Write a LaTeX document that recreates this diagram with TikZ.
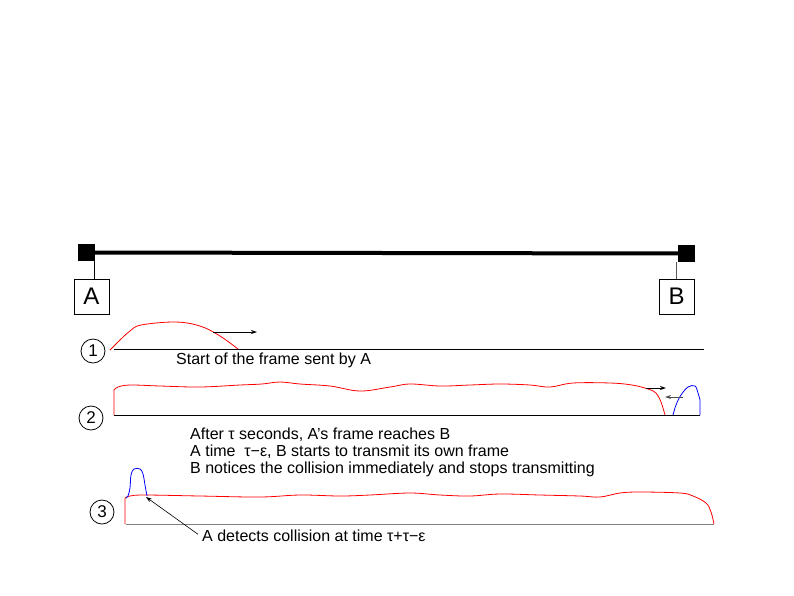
\documentclass[tikz,border=0pt]{standalone}
\usepackage{fontspec}
\setmainfont{Liberation Sans}
\usetikzlibrary{arrows.meta}
\begin{document}
\begin{tikzpicture}[x=1pt,y=-1pt,
  lbl/.style={font=\fontsize{16}{17}\selectfont, inner sep=0pt, anchor=base west},
  numc/.style={draw, line width=0.8pt, circle, minimum size=24pt, inner sep=0pt, font=\fontsize{17}{18}\selectfont},
  stbox/.style={draw, minimum width=35pt, minimum height=35pt, inner sep=0pt, font=\fontsize{24}{26}\selectfont},
  sq/.style={fill=black, minimum size=17pt, inner sep=0pt},
  arr/.style={-{Stealth[length=6pt,width=4pt]}, line width=0.8pt},
  frameA/.style={red, line width=0.8pt},
  frameB/.style={blue, line width=0.8pt}]
\useasboundingbox (0,0) rectangle (794,595);
% bus
\node[sq] (sa) at (86.5,252.5) {};
\node[sq] (sb) at (686.5,253.5) {};
\draw[line width=4pt] (sa.center) -- (sb.center);
\node[stbox] (A) at (91.5,296.5) {A};
\node[stbox] (B) at (676.5,296.5) {B};
\draw[line width=0.6pt] (94,261) -- (94,279);
\draw[line width=0.6pt, gray!70!black] (676,262) -- (676,279);
% line 1
\node[numc] (n1) at (93,351) {1};
\coordinate (b1s) at (114,349);
\coordinate (b1e) at (704,349);
\draw[line width=0.8pt] (b1s) -- (b1e);
\draw[frameA] plot[smooth, tension=0.6] coordinates {(110,350) (120,340) (130,331) (141,325) (175,322) (200,326) (220,336) (238,349)};
\coordinate (a1s) at (213,332);
\coordinate (a1e) at (257,332);
\draw[arr] (a1s) -- (a1e);
\node[lbl] (t1) at (176,364) {Start of the frame sent by A};
% line 2
\node[numc] (n2) at (91,418) {2};
\coordinate (b2s) at (114,415);
\coordinate (b2e) at (700,415);
\draw[line width=0.8pt] (b2s) -- (b2e);
\draw[frameA] (114,415) -- (114,390) plot[smooth, tension=0.6] coordinates {(114,390) (118,387) (130,385) (160,386) (200,387) (240,385) (262,384) (280,382) (300,384) (330,386) (360,391) (390,387) (410,384) (440,386) (470,385) (500,384) (530,385) (550,387) (573,383) (610,383) (632,385) (648,389) (656,393) (661,402) (665,415)};
\draw[frameB] plot[smooth, tension=0.6] coordinates {(673,415) (676,405) (681,395) (688,387) (695,386) (698,393) (700,400)} -- (700,415);
\coordinate (a2s) at (646,388);
\coordinate (a2e) at (666,388);
\draw[arr] (a2s) -- (a2e);
\coordinate (a3s) at (683,397);
\coordinate (a3e) at (665,397);
\draw[arr, gray!60!black] (a3s) -- (a3e);
\node[lbl] (t2) at (190,439) {After τ seconds, A’s frame reaches B};
\node[lbl] (t3) at (190,456) {A time \ τ−ε, B starts to transmit its own frame};
\node[lbl] (t4) at (190,473) {B notices the collision immediately and stops transmitting};
% line 3
\node[numc] (n3) at (102,512) {3};
\coordinate (b3s) at (126,524);
\coordinate (b3e) at (714,524);
\draw[line width=0.8pt, gray] (b3s) -- (b3e);
\draw[frameA] (125,524) -- (125,498) plot[smooth, tension=0.6] coordinates {(125,498) (130,496) (145,495) (200,496) (260,497) (300,495) (340,496) (370,495) (410,493) (440,495) (470,496) (500,494) (540,495) (580,496) (600,497) (620,493) (640,492) (680,493) (693,496) (706,503) (711,512) (714,524)};
\draw[frameB] plot[smooth, tension=0.6] coordinates {(126,498) (128,496) (130,488) (131,475) (134,469) (140,469) (143,474) (145,485) (147,496)};
\node[lbl] (t5) at (202,541) {A detects collision at time τ+τ−ε};
\coordinate (a4e) at (146,497);
\draw[arr, line width=0.6pt] (t5.west) ++(-4,-1) -- (a4e);
\end{tikzpicture}
\end{document}
